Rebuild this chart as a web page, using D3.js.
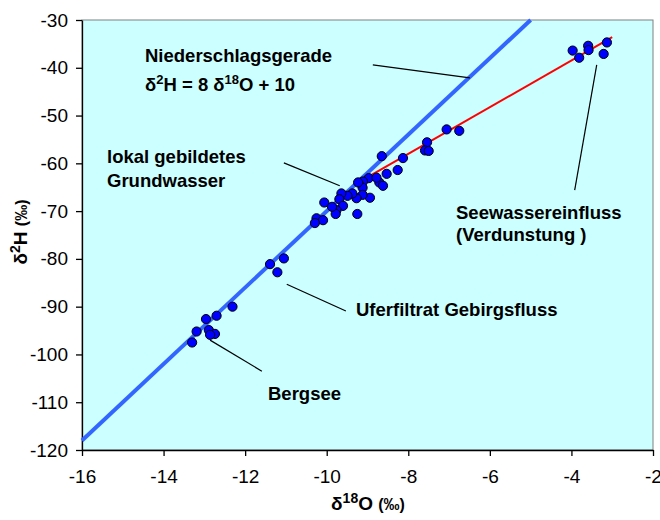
<!DOCTYPE html>
<html>
<head>
<meta charset="utf-8">
<script src="https://cdn.jsdelivr.net/npm/d3@7"></script>
<style>
  body { margin: 0; background: #fff; }
  text { font-family: "Liberation Sans", Arial, sans-serif; }
</style>
</head>
<body>
<div id="chart"></div>
<script>
// measured samples (d18O, d2H)
const d18O = [
  -3.97, -3.81, -3.59, -3.58, -3.13, -3.21,
  -7.06, -6.75, -7.54, -7.59, -7.50,
  -8.65, -8.13, -8.26, -8.53, -8.97, -8.71, -8.62, -9.11, -9.12, -9.23,
  -8.94, -9.12, -9.27, -9.37, -9.49, -9.64, -9.69, -9.60, -9.76, -9.78,
  -10.06, -9.25, -9.87, -10.25, -10.09, -10.29, -8.78,
  -11.39, -11.05, -11.21,
  -12.96, -12.70, -13.19, -12.89, -12.74, -12.86, -13.30, -12.31
]
const d2H = [
  -36.4, -37.9, -35.4, -36.3, -34.7, -37.1,
  -52.9, -53.2, -55.6, -57.3, -57.4,
  -58.5, -58.9, -61.4, -62.2, -63.1, -64.0, -64.7, -63.8, -65.1, -64.0,
  -67.2, -66.6, -67.3, -66.3, -66.8, -66.3, -67.5, -68.9, -69.8, -70.6,
  -68.2, -70.6, -69.1, -71.5, -71.9, -72.5, -63.0,
  -81.1, -79.9, -82.8,
  -92.6, -91.9, -95.2, -94.9, -95.7, -95.9, -97.5, -90.0
]

// global meteoric water line: d2H = 8 d18O + 10
const gmwlX = [-16, -5]
// evaporation line
const evapX = [-8.9, -3.0]
const evapY = [-62.4, -33.6]

const xTicks = [-16, -14, -12, -10, -8, -6, -4, -2]
const yTicks = [-30, -40, -50, -60, -70, -80, -90, -100, -110, -120]

const width = 660, height = 520
const margin = ({ top: 20, right: 7, bottom: 70, left: 82 })
const w = width - margin.left - margin.right
const h = height - margin.top - margin.bottom

var svg = d3.select("#chart").append("svg")
  .attr("width", width)
  .attr("height", height)

var g = svg.append("g")
  .attr("transform", "translate(" + margin.left + "," + margin.top + ")")

var x = d3.scaleLinear().domain([-16, -2]).range([0, w])
var y = d3.scaleLinear().domain([-120, -30]).range([h, 0])

// plot area
g.append("rect")
  .attr("width", w).attr("height", h)
  .attr("fill", "#ccffff")
  .attr("stroke", "#808080")
  .attr("stroke-width", 1)

// axes (plain hyphen minus like the original)
var fmt = d => String(d)
g.append("g")
  .attr("transform", "translate(0," + h + ")")
  .call(d3.axisBottom(x).tickValues(xTicks).tickFormat(fmt).tickSize(6).tickPadding(14).tickSizeOuter(0))
g.append("g")
  .call(d3.axisLeft(y).tickValues(yTicks).tickFormat(fmt).tickSize(6).tickPadding(8).tickSizeOuter(0))

svg.selectAll(".domain, .tick line").attr("stroke", "#000").attr("stroke-width", 1.3)
svg.selectAll(".tick text")
  .attr("fill", "#000")
  .style("font-size", "19px")
  .style("font-family", "'Liberation Sans', Arial, sans-serif")

// lines
var line = d3.line().x(d => x(d[0])).y(d => y(d[1]))

g.append("path")
  .datum(gmwlX.map(v => [v, 8 * v + 10]))
  .attr("d", line)
  .attr("stroke", "#3366ff")
  .attr("stroke-width", 4)
  .attr("fill", "none")

g.append("path")
  .datum(evapX.map((v, i) => [v, evapY[i]]))
  .attr("d", line)
  .attr("stroke", "#ff0000")
  .attr("stroke-width", 2)
  .attr("fill", "none")

// points
g.append("g").selectAll("circle")
  .data(d18O.map((v, i) => [v, d2H[i]]))
  .enter().append("circle")
  .attr("cx", d => x(d[0]))
  .attr("cy", d => y(d[1]))
  .attr("r", 4.6)
  .attr("fill", "#0000ff")
  .attr("stroke", "#000")
  .attr("stroke-width", 1)

// annotation leader lines, in data coords
const leaders = [
  [[-8.87, -39.4], [-6.49, -42.1]],   // Niederschlagsgerade
  [[-11.05, -59.9], [-9.68, -64.7]],  // Grundwasser
  [[-3.38, -39.4], [-3.92, -65.6]],   // Seewasser
  [[-10.98, -85.3], [-9.53, -90.9]],  // Uferfiltrat
  [[-12.86, -97.0], [-11.59, -103.5]] // Bergsee
]
g.append("g").selectAll("line")
  .data(leaders)
  .enter().append("line")
  .attr("x1", d => x(d[0][0])).attr("y1", d => y(d[0][1]))
  .attr("x2", d => x(d[1][0])).attr("y2", d => y(d[1][1]))
  .attr("stroke", "#000")
  .attr("stroke-width", 1.2)

function label(px, py, parts) {
  var t = svg.append("text")
    .attr("x", px).attr("y", py)
    .style("font-size", "18.5px")
    .style("font-weight", "bold")
  parts.forEach(function (p) {
    var ts = t.append("tspan").text(p[0])
    if (p[1] === "sup") ts.attr("dy", -7).style("font-size", "13px")
    if (p[1] === "base") ts.attr("dy", 7)
  })
  return t
}

label(145, 62, [["Niederschlagsgerade"]])
label(145, 91, [["δ"], ["2", "sup"], ["H = 8 δ", "base"], ["18", "sup"], ["O + 10", "base"]])
label(107, 163, [["lokal gebildetes"]])
label(107, 187, [["Grundwasser"]])
label(456, 219, [["Seewassereinfluss"]])
label(456, 241, [["(Verdunstung )"]])
label(356, 316, [["Uferfiltrat Gebirgsfluss"]])
label(268, 400, [["Bergsee"]])

// axis titles
var xt = svg.append("text")
  .attr("x", 368).attr("y", 510)
  .attr("text-anchor", "middle")
  .style("font-size", "19px").style("font-weight", "bold")
xt.append("tspan").text("δ")
xt.append("tspan").text("18").attr("dy", -7).style("font-size", "14px")
xt.append("tspan").text("O ").attr("dy", 7)
xt.append("tspan").text("(‰)").style("font-size", "16px")

var yt = svg.append("text")
  .attr("transform", "translate(27,232) rotate(-90)")
  .attr("text-anchor", "middle")
  .style("font-size", "19px").style("font-weight", "bold")
yt.append("tspan").text("δ")
yt.append("tspan").text("2").attr("dy", -7).style("font-size", "14px")
yt.append("tspan").text("H  ").attr("dy", 7)
yt.append("tspan").text("(‰)").style("font-size", "16px")
</script>
</body>
</html>
